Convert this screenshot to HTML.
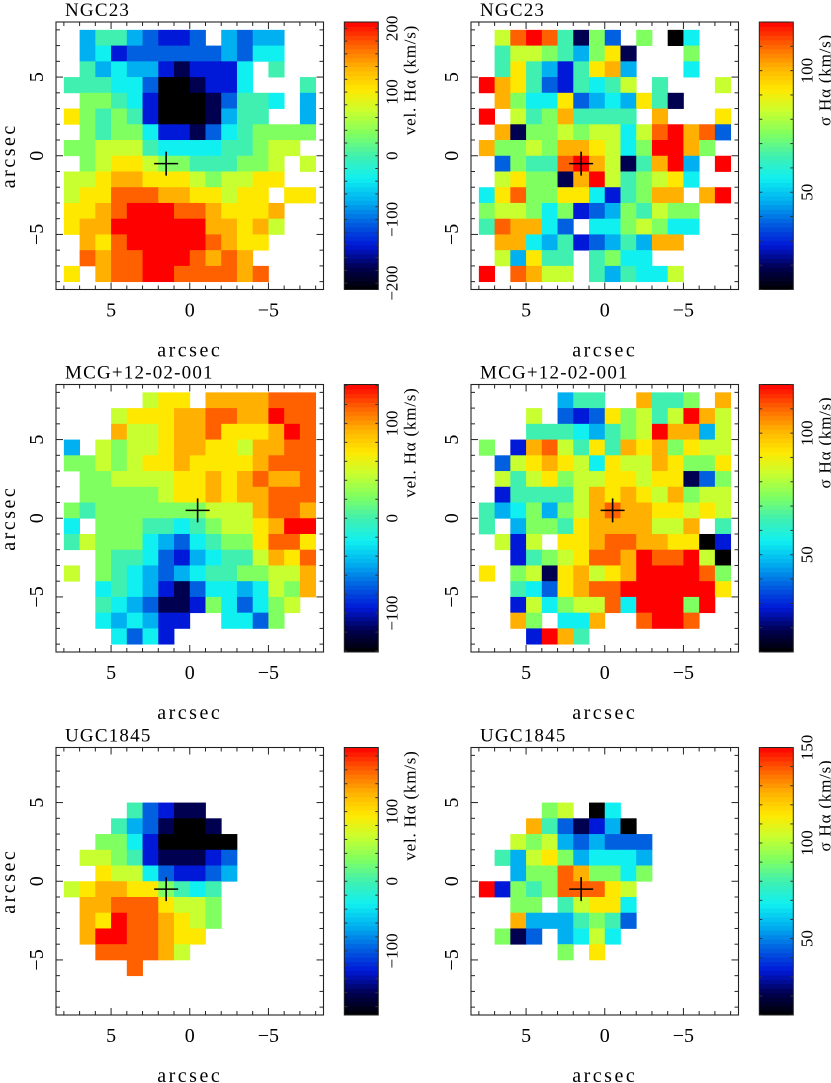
<!DOCTYPE html>
<html><head><meta charset="utf-8"><title>IFU maps</title>
<style>
html,body{margin:0;padding:0;background:#fff;}
svg{display:block;}
text{font-family:"Liberation Serif",serif;fill:#000;}
</style></head>
<body>
<svg id="fig" width="831" height="1083" viewBox="0 0 831 1083" xmlns="http://www.w3.org/2000/svg"></svg>
<script>
// ---- data: each char is a colour level 0..c (13 levels), '.' = no data ----
const ngc23Vel = [
".46643223.4344..",".4523333334355..",".64544212225.6..","666553001225...6",
".7765200013665.4","9767620001466..4",".767752213567777","778886555566788.",
".7899877666778.8","889aa999878899..","899bbbaa99899.99","99abcccbba999a..",
"9aaccccccaa9a8..",".a9bcccccba99...",".babbcccbaba....","9.abbccbbbbab..."];
const ngc23Sig = [
".8bcb6173.7.05..",".688764791...7..",".6964269a4...5..","ca96326568.6...8",
".a75593454961...","c.867a6666.a...9",".a177878858bcab3","a7787aa9857cca7.",
".3766bca816ac4.c",".89771ac867895..","59b77995267aa.ac","78875723476877..",
"6baa53.5578755..",".aa54623464aa...",".84966.6755.....","c.ba88.646558..."];
const mcgVel = [
".....899.aaaabbb","...8999aabbaacbb","...a889aab999acb","4.87889aa998aabb",
"7787899a9999abbb",".77888899a9abaab",".77777899a9aabbb","767777777888abba",
"5.77766567889acc","6877754356779bb9","..76653245668a9b","8.7654345667788a",
"..5654213554587a","..6543112753578.","..545422..5537..","...5352........."];
const mcgSig = [
".....466..a667.a","...8.32397868ca8","...66654678caa48","7.2ab8696a9a7988",
".389a985988a9779",".868978899899137",".266668a9a98a788","6457478abaa99898",
"6.47769aaaa88a.6",".828.99abbaa9902","..26789bbacbbc80","9.7819a89accccb7",
"..6539abbcccccc9","..285788b5ccc7c.","..a7.55a..bccb..","...2ca6........."];
const ugcVel = [
"................","................","................","....63211.......",
"...6431001......","..775200000.....",".8876211123.....","..988532234.....",
"89aa997656......",".aabbb9887......",".a9cbba987......",".accbba99.......",
"..bbbba8........","....b...........","................","................"];
const ugcSig = [
"................","................","................","....78.05.......",
"...a631240......","..878434333.....",".6489745554.....","..477ba7757.....",
"c2767bbb98......","..77.68995......","..a4446763......",".713.4585.......",
".....7.9........","................","................","................"];
const panelTitles = ["NGC23","NGC23","MCG+12-02-001","MCG+12-02-001","UGC1845","UGC1845"];
const velRange = [[-210,210],[-141,141],[-192,192]];
const sigRange = [[10,120],[10,120],[10,150]];
const velTicks = [[-200,-100,0,100,200],[-100,0,100],[-100,0,100]];
const sigTicks = [[50,100],[50,100],[50,100,150]];
const crossPos = [[1.5,-0.5],[-0.5,0.5],[1.5,-0.5]];
const axisTicks = [5,0,-5];

const stops = [[0,"#000000"],[1/12,"#000050"],[2/12,"#0018d8"],[3/12,"#0060e0"],[4/12,"#00b0f0"],
 [5/12,"#10f0f0"],[6/12,"#40f0b0"],[7/12,"#80ff60"],[8/12,"#c8ff30"],[9/12,"#ffe800"],
 [10/12,"#ffb000"],[11/12,"#ff6000"],[1,"#ff0000"]];
function hex(h){return [parseInt(h.substr(1,2),16),parseInt(h.substr(3,2),16),parseInt(h.substr(5,2),16)];}
function cmap(t){t=Math.max(0,Math.min(1,t));
 for(let i=1;i<stops.length;i++){if(t<=stops[i][0]){const a=stops[i-1],b=stops[i];const f=(t-a[0])/(b[0]-a[0]);
 const ca=hex(a[1]),cb=hex(b[1]);return "rgb("+ca.map((v,j)=>Math.round(v+(cb[j]-v)*f)).join(",")+")";}}
 return stops[stops.length-1][1];}
function levelToValue(ch,vmin,vmax){return vmin+parseInt(ch,16)/12*(vmax-vmin);}

const NS="http://www.w3.org/2000/svg";
const svg=document.getElementById("fig");
function mk(tag,attrs,parent){const e=document.createElementNS(NS,tag);for(const k in attrs)e.setAttribute(k,attrs[k]);(parent||svg).appendChild(e);return e;}

const S=267.5, K=S/17;
const colX=[56,471], rowY=[22,384.5,747.5], cbOff=288.3, cbW=34;
const maps=[[ngc23Vel,ngc23Sig],[mcgVel,mcgSig],[ugcVel,ugcSig]];

for(let r=0;r<3;r++){for(let c=0;c<2;c++){
 const x0=colX[c], y0=rowY[r], grid=maps[r][c];
 const rng = c===0?velRange[r]:sigRange[r];
 const ticks = c===0?velTicks[r]:sigTicks[r];
 const g=mk("g",{});
 
 
 const X=a=>x0+(8.5-a)*K, Y=a=>y0+(8.5-a)*K;
 const t=mk("text",{x:x0+9,y:y0-6,"font-size":19,"letter-spacing":1.2},g);
 t.textContent=panelTitles[r*2+c];
 
 
 for(let i=0;i<16;i++){for(let j=0;j<16;j++){const ch=grid[i][j]; if(ch===".")continue;
  const v=levelToValue(ch,rng[0],rng[1]);
  const cell=mk("rect",{x:X(8-j),y:Y(8-i),width:K+0.4,height:K+0.4,fill:cmap((v-rng[0])/(rng[1]-rng[0]))},g);
  
  
 }}
 const fr=mk("rect",{x:x0,y:y0,width:S,height:S,fill:"none",stroke:"#222","stroke-width":1.1},g);
 
 
 for(let a=-8;a<=8;a++){const L=(a%5===0)?7:4;
  mk("line",{x1:X(a),y1:y0,x2:X(a),y2:y0+L,stroke:"#222"},g);
  mk("line",{x1:X(a),y1:y0+S,x2:X(a),y2:y0+S-L,stroke:"#222"},g);
  mk("line",{x1:x0,y1:Y(a),x2:x0+L,y2:Y(a),stroke:"#222"},g);
  mk("line",{x1:x0+S,y1:Y(a),x2:x0+S-L,y2:Y(a),stroke:"#222"},g);}
 for(const a of axisTicks){
  const lab=(a<0?"\u2212":"")+Math.abs(a);
  const tx=mk("text",{x:X(a),y:y0+S+27,"font-size":20,"text-anchor":"middle"},g);tx.textContent=lab;
  
  
  const ty=mk("text",{x:0,y:0,"font-size":20,"text-anchor":"middle",transform:`translate(${x0-13},${Y(a)}) rotate(-90)`},g);ty.textContent=lab;
  
  
 }
 const xl=mk("text",{x:x0+S/2,y:y0+S+67,"font-size":20,"letter-spacing":2.5,"text-anchor":"middle"},g);xl.textContent="arcsec";
 
 
 if(c===0){
  const yl=mk("text",{x:0,y:0,"font-size":20,"letter-spacing":2.5,"text-anchor":"middle",transform:`translate(${x0-41},${y0+S/2}) rotate(-90)`},g);yl.textContent="arcsec";
  
  
 }
 const cp=crossPos[r];
 mk("line",{x1:X(cp[0])-12,y1:Y(cp[1]),x2:X(cp[0])+12,y2:Y(cp[1]),stroke:"#000","stroke-width":1.6},g);
 mk("line",{x1:X(cp[0]),y1:Y(cp[1])-12,x2:X(cp[0]),y2:Y(cp[1])+12,stroke:"#000","stroke-width":1.6},g);
 const cbx=x0+cbOff;
 const cb=mk("g",{},g);
 
 
 const N=60;
 for(let k=0;k<N;k++){mk("rect",{x:cbx,y:y0+S-(k+1)*S/N,width:cbW,height:S/N+0.5,fill:cmap((k+0.5)/N)},cb);}
 mk("rect",{x:cbx,y:y0,width:cbW,height:S,fill:"none",stroke:"#222","stroke-width":1},cb);
 const vy=v=>y0+S*(1-(v-rng[0])/(rng[1]-rng[0]));
 const step=c===0?20:10;
 for(let v=Math.ceil(rng[0]/step)*step;v<=rng[1];v+=step){
  mk("line",{x1:cbx,y1:vy(v),x2:cbx+3,y2:vy(v),stroke:"#333"},cb);
  mk("line",{x1:cbx+cbW,y1:vy(v),x2:cbx+cbW-3,y2:vy(v),stroke:"#333"},cb);}
 for(const v of ticks){
  const tl=mk("text",{x:0,y:0,"font-size":17,"text-anchor":"middle",transform:`translate(${cbx+cbW+19},${vy(v)}) rotate(-90)`},cb);
  tl.textContent=(v<0?"\u2212":"")+Math.abs(v);
  
  
 }
 const cl=mk("text",{x:0,y:0,"font-size":17,"letter-spacing":0.8,"text-anchor":"middle",transform:`translate(${cbx+cbW+37},${y0+58}) rotate(-90)`},cb);
 cl.textContent=c===0?"vel. H\u03b1 (km/s)":"\u03c3 H\u03b1 (km/s)";
 
 
}}
</script>
</body></html>
